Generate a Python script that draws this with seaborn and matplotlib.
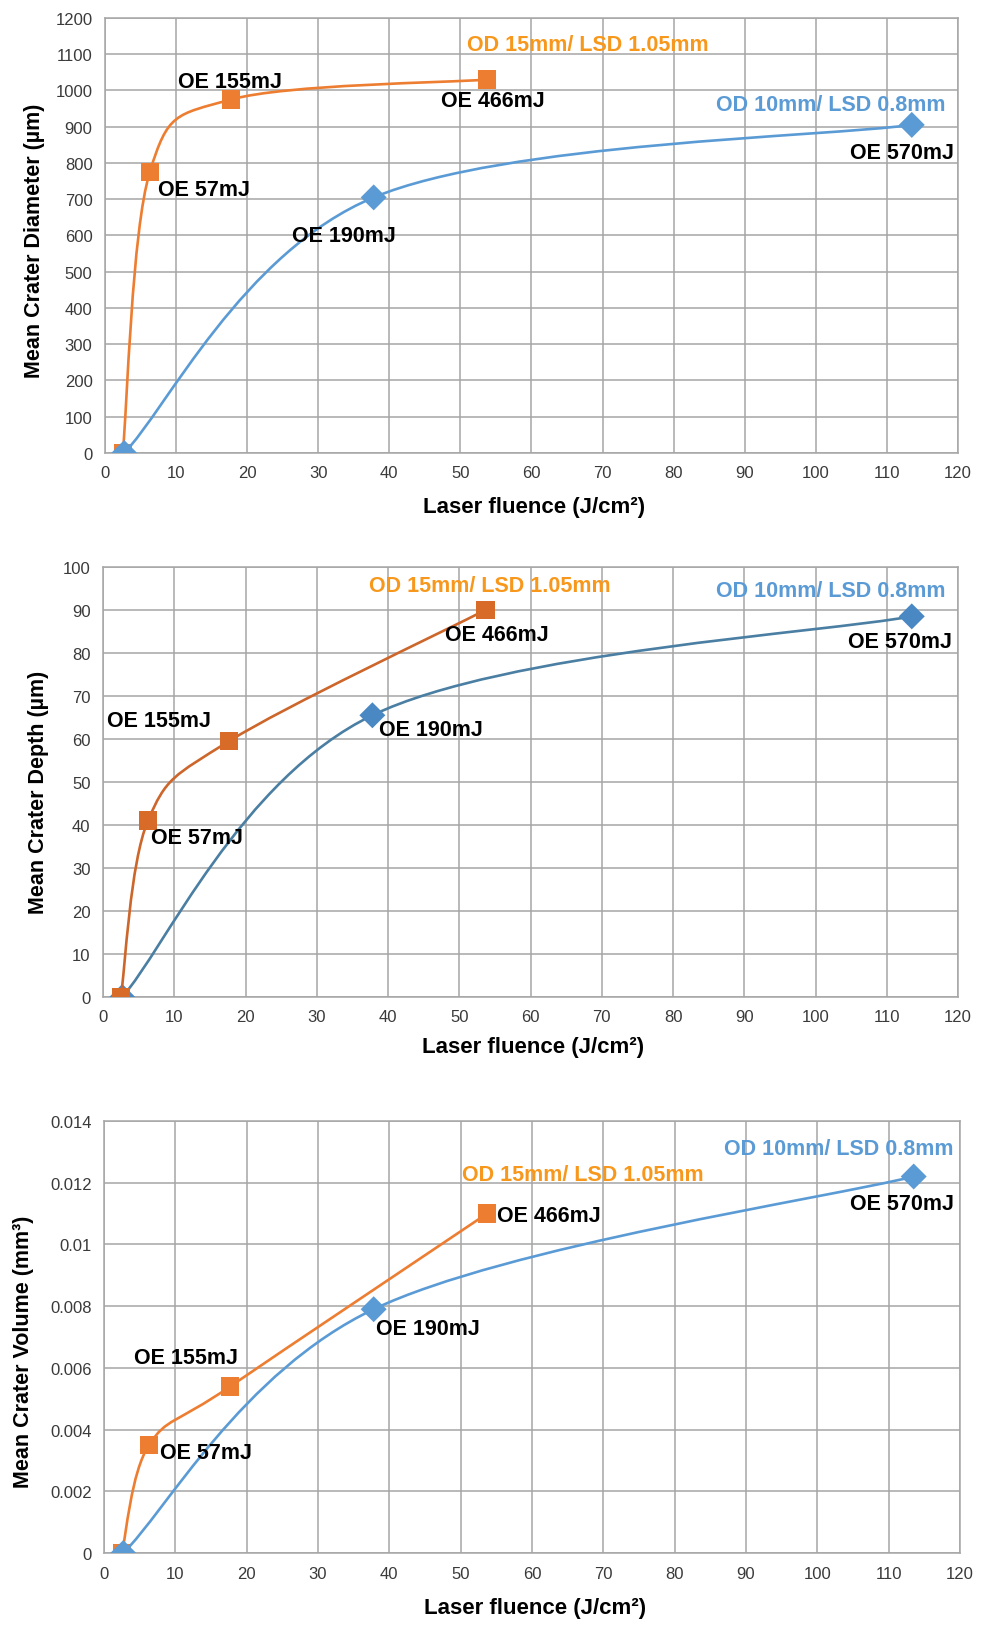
import numpy as np
import seaborn as sns
import matplotlib.pyplot as plt
from matplotlib.path import Path
from matplotlib.patches import PathPatch
from matplotlib.ticker import FuncFormatter, MultipleLocator

# laser fluence of each shot (J/cm²)
fluence_od15 = [2.5, 6.3, 17.7, 53.7]
fluence_od10 = [2.7, 37.8, 113.5]

# mean crater diameter (µm)
diameter_od15 = [0, 775, 975, 1030]
diameter_od10 = [0, 705, 905]

# mean crater depth (µm)
depth_od15 = [0, 41, 59.5, 90]
depth_od10 = [0, 65.5, 88.5]

# mean crater volume (mm³)
volume_od15 = [0, 0.0035, 0.0054, 0.011]
volume_od10 = [0, 0.0079, 0.0122]

series_od15 = "OD 15mm/ LSD 1.05mm"
series_od10 = "OD 10mm/ LSD 0.8mm"
energy_labels = ["OE 57mJ", "OE 155mJ", "OE 466mJ", "OE 190mJ", "OE 570mJ"]

ORANGE = "#ED7D31"
BLUE = "#5B9BD5"
ORANGE_TXT = "#F7981D"
GRID = "#A6A6A6"


def smooth_path(xs, ys):
    # excel-like smoothed line: catmull-rom segments as cubic beziers
    pts = np.column_stack([xs, ys]).astype(float)
    n = len(pts)
    verts = [pts[0]]
    codes = [Path.MOVETO]
    for i in range(n - 1):
        p0 = pts[max(i - 1, 0)]
        p1 = pts[i]
        p2 = pts[i + 1]
        p3 = pts[min(i + 2, n - 1)]
        verts += [p1 + (p2 - p0) / 6, p2 - (p3 - p1) / 6, p2]
        codes += [Path.CURVE4] * 3
    return Path(verts, codes)


def draw_series(ax, xs, ys, line_color, marker_color, marker, size, z):
    ax.add_patch(PathPatch(smooth_path(xs, ys), facecolor="none",
                           edgecolor=line_color, lw=1.9, zorder=z))
    sns.scatterplot(x=xs, y=ys, ax=ax, marker=marker, s=size,
                    color=marker_color, edgecolor="none", zorder=z + 0.5,
                    legend=False)


def style_axes(ax, ymax, ystep, ylabel, ylab_x, ylab_y, xlab_y, fmt=None):
    ax.set_xlim(0, 120)
    ax.set_ylim(0, ymax)
    ax.xaxis.set_major_locator(MultipleLocator(10))
    ax.yaxis.set_major_locator(MultipleLocator(ystep))
    if fmt:
        ax.yaxis.set_major_formatter(FuncFormatter(fmt))
    ax.grid(True, color=GRID, lw=1.1)
    ax.set_axisbelow(True)
    for sp in ax.spines.values():
        sp.set_visible(True)
        sp.set_color(GRID)
        sp.set_linewidth(1.1)
    ax.tick_params(axis="both", direction="out", length=4, width=1.1,
                   color=GRID, labelsize=12, labelcolor="#3A3A3A", pad=5)
    ax.set_xlabel("Laser fluence (J/cm²)", fontsize=16, fontweight="bold",
                  color="black")
    ax.xaxis.set_label_coords(0.503, xlab_y)
    ax.xaxis.label.set_va("center")
    ax.set_ylabel(ylabel, fontsize=15.5, fontweight="bold", color="black")
    ax.yaxis.set_label_coords(ylab_x, ylab_y)
    ax.yaxis.label.set_va("center")


def add_labels(ax, labels):
    for text, x, y, color in labels:
        ax.text(x, y, text, fontsize=15.5, fontweight="bold", color=color,
                ha="left", va="center", zorder=6)


def main():
    sns.set_theme(style="whitegrid")
    plt.rcParams["font.family"] = ["Liberation Sans", "DejaVu Sans"]

    fig = plt.figure(figsize=(9.87, 16.49), dpi=100)
    ax1 = fig.add_axes([0.1064, 0.7247, 0.8642, 0.2638])
    ax2 = fig.add_axes([0.1044, 0.3948, 0.8663, 0.2608])
    ax3 = fig.add_axes([0.1054, 0.0576, 0.8673, 0.2620])

    sq, dm = 175, 175

    # diameter
    draw_series(ax1, fluence_od15, diameter_od15, ORANGE, ORANGE, "s", sq, 3)
    draw_series(ax1, fluence_od10, diameter_od10, BLUE, BLUE, "D", dm, 4)
    style_axes(ax1, 1200, 100, "Mean Crater Diameter (µm)", -0.083, 0.49, -0.124)
    add_labels(ax1, [
        (series_od15, 50.9, 1128, ORANGE_TXT),
        (energy_labels[1], 10.3, 1026, "black"),
        (energy_labels[2], 47.3, 971, "black"),
        (energy_labels[0], 7.5, 728, "black"),
        (energy_labels[3], 26.3, 599, "black"),
        (series_od10, 86.0, 960, BLUE),
        (energy_labels[4], 104.8, 830, "black"),
    ])

    # depth
    draw_series(ax2, fluence_od10, depth_od10, "#4A7EA2", "#4A88C4", "D", dm, 3)
    draw_series(ax2, fluence_od15, depth_od15, "#CC662B", "#D96B29", "s", sq, 4)
    style_axes(ax2, 100, 10, "Mean Crater Depth (µm)", -0.076, 0.477, -0.116)
    add_labels(ax2, [
        (series_od15, 37.3, 95.6, ORANGE_TXT),
        (energy_labels[2], 48.0, 84.2, "black"),
        (energy_labels[1], 0.6, 64.4, "black"),
        (energy_labels[3], 38.7, 62.1, "black"),
        (energy_labels[0], 6.7, 37.0, "black"),
        (series_od10, 86.0, 94.4, BLUE),
        (energy_labels[4], 104.6, 82.6, "black"),
    ])

    # volume
    draw_series(ax3, fluence_od15, volume_od15, ORANGE, ORANGE, "s", sq, 3)
    draw_series(ax3, fluence_od10, volume_od10, BLUE, BLUE, "D", dm, 4)
    style_axes(ax3, 0.014, 0.002, "Mean Crater Volume (mm³)", -0.0935, 0.468,
               -0.125, fmt=lambda v, p: f"{v:g}")
    add_labels(ax3, [
        (series_od15, 50.2, 0.01228, ORANGE_TXT),
        (energy_labels[2], 55.1, 0.01095, "black"),
        (energy_labels[3], 38.1, 0.00729, "black"),
        (energy_labels[1], 4.2, 0.00635, "black"),
        (energy_labels[0], 7.85, 0.00327, "black"),
        (series_od10, 86.9, 0.01312, BLUE),
        (energy_labels[4], 104.6, 0.01134, "black"),
    ])

    fig.savefig("out.png", dpi=100, facecolor="white")


if __name__ == "__main__":
    main()
